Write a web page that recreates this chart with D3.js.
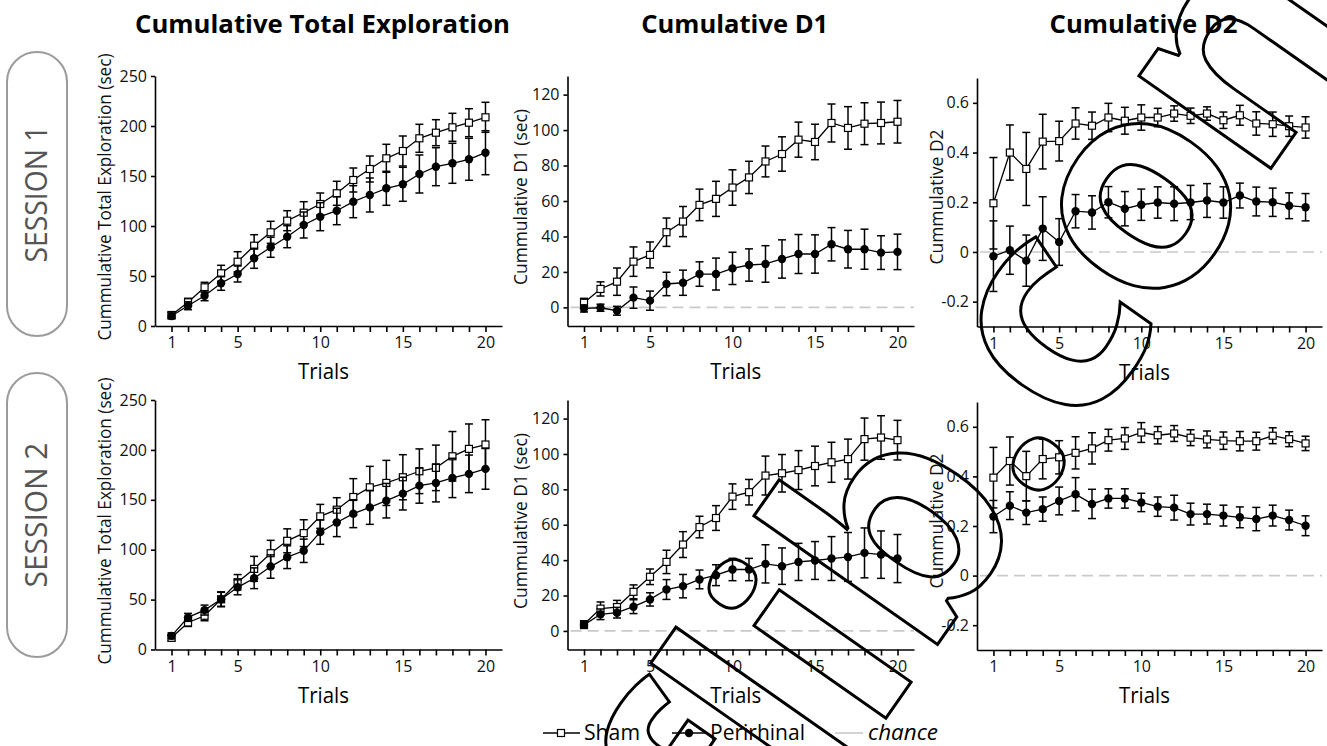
<!DOCTYPE html>
<meta charset="utf-8">
<head>
    <style>
        body {
            margin: 0;
            background: #fff;
        }

        svg {
            font-family: 'Open Sans', sans-serif;
        }

        .axis path,
        .axis line {
            fill: none;
            stroke: #000;
            stroke-width: 1.6;
        }

        .axis text {
            font-family: 'Open Sans', sans-serif;
            font-size: 16px;
            fill: #111;
        }
    </style>
</head>

<body>
    <svg id="chart" width="1327" height="746"></svg>

    <!-- load the d3.js library -->
    <script src="https://cdnjs.cloudflare.com/ajax/libs/d3/7.8.5/d3.min.js"></script>
    <script>

        // ---- data ----
        var trials = [1, 2, 3, 4, 5, 6, 7, 8, 9, 10, 11, 12, 13, 14, 15, 16, 17, 18, 19, 20];
        var xTickLabels = [1, 5, 10, 15, 20];
        var totalTicks = [0, 50, 100, 150, 200, 250];
        var d1Ticks = [0, 20, 40, 60, 80, 100, 120];
        var d2Ticks = [-0.2, 0, 0.2, 0.4, 0.6];

        var titles = ["Cumulative Total Exploration", "Cumulative D1", "Cumulative D2"];
        var yLabels = ["Cummulative Total Exploration (sec)", "Cummulative D1 (sec)", "Cummulative D2"];
        var sessions = ["SESSION 1", "SESSION 2"];
        var legendNames = ["Sham", "Perirhinal", "chance"];
        var watermarkParts = ["flib.", "con"];

        // session 1
        var s1TotalSham = [11, 23.7, 38.7, 52.7, 64.3, 80.3, 93.7, 105.3, 113.3, 122, 132.7, 146, 157, 167.7, 175, 187.7, 193.3, 198.7, 203.3, 208.7];
        var s1TotalShamErr = [3, 4, 5, 8, 10, 11, 11, 10, 11, 11, 12, 12, 13, 14, 15, 14, 13, 14, 14, 15];
        var s1TotalPeri = [10, 20.3, 30.3, 42.7, 52, 67.7, 78.7, 89.3, 101, 109.3, 115.3, 124.3, 131, 137.7, 141.7, 152, 159.3, 162.7, 166.7, 173.3];
        var s1TotalPeriErr = [3, 4, 5, 7, 8, 10, 10, 11, 13, 14, 14, 16, 17, 17, 17, 19, 19, 20, 21, 22];

        var s1D1Sham = [2.6, 10.4, 14.5, 25.8, 29.6, 42.4, 48.4, 57.8, 61.2, 67.6, 73.3, 82.3, 86.5, 94.6, 93.3, 104, 101.2, 103.6, 104, 104.7];
        var s1D1ShamErr = [2.5, 4, 7.7, 8.3, 7.3, 8, 8.5, 8.9, 9.9, 10, 9.1, 8.7, 9.7, 9.9, 10, 10.7, 12, 11.8, 11.8, 12];
        var s1D1Peri = [-0.6, -0.2, -1.9, 5.5, 3.8, 13.2, 13.9, 18.8, 18.8, 22, 23.9, 24.5, 27.3, 30.1, 30.1, 35.6, 32.8, 32.8, 30.9, 31.3];
        var s1D1PeriErr = [2, 2, 2.5, 6, 5.4, 6.6, 7.1, 6.9, 9, 9.1, 9.1, 10.3, 10.8, 11, 10.8, 9.4, 10.6, 11.3, 9.5, 10];

        var s1D2Sham = [0.196, 0.40, 0.334, 0.444, 0.446, 0.517, 0.508, 0.541, 0.528, 0.541, 0.541, 0.557, 0.548, 0.557, 0.530, 0.550, 0.517, 0.514, 0.506, 0.501];
        var s1D2ShamErr = [0.184, 0.111, 0.147, 0.110, 0.080, 0.063, 0.055, 0.057, 0.054, 0.051, 0.037, 0.031, 0.031, 0.027, 0.033, 0.040, 0.047, 0.049, 0.041, 0.043];
        var s1D2Peri = [-0.017, 0.007, -0.035, 0.094, 0.040, 0.164, 0.159, 0.200, 0.174, 0.190, 0.199, 0.194, 0.199, 0.207, 0.199, 0.227, 0.203, 0.200, 0.186, 0.180];
        var s1D2PeriErr = [0.142, 0.097, 0.103, 0.128, 0.094, 0.067, 0.067, 0.063, 0.069, 0.063, 0.063, 0.068, 0.069, 0.068, 0.063, 0.050, 0.058, 0.057, 0.052, 0.055];

        // session 2
        var s2TotalSham = [11.7, 27.1, 33.8, 50.3, 67.4, 80.8, 96.5, 108.9, 116.6, 133.4, 140.1, 152.8, 162.5, 166.9, 172.6, 178.6, 182, 193.6, 201, 205.4];
        var s2TotalShamErr = [3, 4, 5, 7, 7.7, 12.5, 12.9, 12, 13.4, 12, 12, 18.4, 21, 22.6, 22.6, 22.4, 22.8, 24.8, 25, 24.8];
        var s2TotalPeri = [13.7, 32.2, 39.5, 50.3, 62.3, 71.4, 83.1, 92.5, 98.9, 117.6, 127.3, 136.1, 142.4, 149.1, 156.2, 164.2, 166.9, 171.9, 176, 181];
        var s2TotalPeriErr = [3, 4, 5, 7.5, 7.5, 10.4, 11.7, 11.4, 11.7, 12.2, 14.2, 14, 17, 17.3, 16.4, 17.6, 19, 19.7, 18.8, 20.4];

        var s2D1Sham = [3.75, 12.6, 13.5, 22.1, 30.6, 39, 48.8, 58.7, 63.8, 75.9, 78.4, 87.8, 89.1, 90.9, 93.2, 95.3, 97.1, 108.4, 109.3, 107.8];
        var s2D1ShamErr = [2, 3.75, 3.75, 3.9, 4.4, 6.6, 7.3, 6.1, 7, 7.2, 7.2, 11, 10.6, 11, 11.2, 11.3, 11.3, 11.9, 12.3, 11.2];
        var s2D1Peri = [3.4, 9.4, 10.3, 13.7, 17.8, 23.4, 25.3, 29.1, 31.5, 34.7, 34.7, 37.9, 36.6, 39, 39.8, 40.9, 41.8, 44.1, 43.1, 40.9];
        var s2D1PeriErr = [2, 3, 3, 3.9, 3.75, 5.6, 6.6, 5.3, 5.9, 6.3, 6.3, 10.8, 10.3, 10.5, 10.7, 12.4, 13.8, 14.1, 13.4, 13.6];

        var s2D2Sham = [0.395, 0.462, 0.401, 0.470, 0.477, 0.495, 0.513, 0.546, 0.553, 0.577, 0.566, 0.573, 0.556, 0.549, 0.544, 0.542, 0.542, 0.564, 0.550, 0.533];
        var s2D2ShamErr = [0.122, 0.097, 0.10, 0.080, 0.067, 0.065, 0.063, 0.044, 0.044, 0.040, 0.035, 0.032, 0.032, 0.034, 0.035, 0.039, 0.036, 0.032, 0.030, 0.029];
        var s2D2Peri = [0.238, 0.282, 0.254, 0.268, 0.301, 0.328, 0.289, 0.311, 0.311, 0.295, 0.278, 0.274, 0.248, 0.248, 0.242, 0.235, 0.228, 0.242, 0.224, 0.201];
        var s2D2PeriErr = [0.065, 0.056, 0.048, 0.049, 0.056, 0.067, 0.059, 0.039, 0.039, 0.037, 0.039, 0.050, 0.044, 0.040, 0.042, 0.042, 0.047, 0.042, 0.040, 0.040];

        // ---- layout ----
        var svg = d3.select("#chart");

        var signedFmt = function (d) {
            if (d == 0) return "0";
            return (d < 0 ? "-" : "") + Math.abs(d).toFixed(1);
        };

        var cols = [
            { x0: 155, x1: 502, domain: [0, 250], ticks: totalTicks, fmt: d3.format("d"), dTop: 0, dBot: 0, labelOff: 44, labelLen: 287, titleLen: 375, chance: false },
            { x0: 567.5, x1: 914, domain: [-10.5, 130.5], ticks: d1Ticks, fmt: d3.format("d"), dTop: 0, dBot: 0, labelOff: 40.5, labelLen: 176, titleLen: 187, chance: true },
            { x0: 977, x1: 1322, domain: [-0.3, 0.7], ticks: d2Ticks, fmt: signedFmt, dTop: 2, dBot: 0.5, labelOff: 34.3, labelLen: 135, titleLen: 188, chance: true }
        ];
        var rows = [
            { top: 76, bottom: 326, pillY: 52, textLen: 137 },
            { top: 400, bottom: 649.5, pillY: 373, textLen: 145 }
        ];

        var series = [
            [[s1TotalSham, s1TotalShamErr, s1TotalPeri, s1TotalPeriErr],
             [s1D1Sham, s1D1ShamErr, s1D1Peri, s1D1PeriErr],
             [s1D2Sham, s1D2ShamErr, s1D2Peri, s1D2PeriErr]],
            [[s2TotalSham, s2TotalShamErr, s2TotalPeri, s2TotalPeriErr],
             [s2D1Sham, s2D1ShamErr, s2D1Peri, s2D1PeriErr],
             [s2D2Sham, s2D2ShamErr, s2D2Peri, s2D2PeriErr]]
        ];

        // column titles
        cols.forEach(function (c, i) {
            svg.append("text")
                .attr("x", (c.x0 + c.x1) / 2 - 6)
                .attr("y", 32.5)
                .attr("text-anchor", "middle")
                .attr("font-size", 25)
                .attr("font-weight", 700)
                .attr("textLength", c.titleLen)
                .attr("lengthAdjust", "spacingAndGlyphs")
                .text(titles[i]);
        });

        // session pills
        rows.forEach(function (r, i) {
            svg.append("rect")
                .attr("x", 7).attr("y", r.pillY)
                .attr("width", 60).attr("height", 284)
                .attr("rx", 30).attr("ry", 30)
                .attr("fill", "none")
                .attr("stroke", "#9b9b9b")
                .attr("stroke-width", 2);
            svg.append("text")
                .attr("transform", "translate(47," + (r.pillY + 142) + ")rotate(-90)")
                .attr("text-anchor", "middle")
                .attr("font-size", 31)
                .attr("fill", "#555")
                .attr("textLength", r.textLen)
                .attr("lengthAdjust", "spacingAndGlyphs")
                .text(sessions[i]);
        });

        function drawPanel(c, r, data, ci) {
            var g = svg.append("g");

            var x = d3.scaleLinear().domain([0, 21]).range([c.x0, c.x1]);
            var y = d3.scaleLinear().domain(c.domain).range([r.bottom + c.dBot, r.top + c.dTop]);
            var base = r.bottom + c.dBot;

            // chance line
            if (c.chance) {
                g.append("line")
                    .attr("x1", c.x0 + 3).attr("x2", c.x1)
                    .attr("y1", y(0)).attr("y2", y(0))
                    .attr("stroke", "#c9c9c9")
                    .attr("stroke-width", 1.6)
                    .attr("stroke-dasharray", "11,6");
            }

            // Y axis
            g.append("g")
                .attr("class", "axis")
                .attr("transform", "translate(" + c.x0 + ",0)")
                .call(d3.axisLeft(y).tickValues(c.ticks).tickFormat(c.fmt).tickSize(4).tickSizeOuter(0).tickPadding(4));

            // X axis
            g.append("g")
                .attr("class", "axis")
                .attr("transform", "translate(0," + base + ")")
                .call(d3.axisBottom(x).tickValues(trials)
                    .tickFormat(function (d) { return xTickLabels.indexOf(d) >= 0 ? d : ""; })
                    .tickSize(6).tickSizeOuter(0).tickPadding(5));

            g.selectAll(".axis text").attr("font-size", 16).attr("font-family", "'Open Sans', sans-serif");

            // axis titles
            g.append("text")
                .attr("x", (c.x0 + c.x1) / 2 - 5)
                .attr("y", base + 53)
                .attr("text-anchor", "middle")
                .attr("font-size", 22)
                .attr("textLength", 51)
                .attr("lengthAdjust", "spacingAndGlyphs")
                .text("Trials");

            g.append("text")
                .attr("transform", "translate(" + (c.x0 - c.labelOff) + "," + (r.top + 121) + ")rotate(-90)")
                .attr("text-anchor", "middle")
                .attr("font-size", 19)
                .attr("fill", "#111")
                .attr("textLength", c.labelLen)
                .attr("lengthAdjust", "spacingAndGlyphs")
                .text(yLabels[ci]);

            // Bars, lines, markers for each group
            [[data[0], data[1], "sham"], [data[2], data[3], "peri"]].forEach(function (s) {
                var pts = trials.map(function (t, i) { return { t: t, v: s[0][i], e: s[1][i] }; });

                var eb = g.append("g")
                    .attr("stroke", "#000")
                    .attr("stroke-width", 1.5);
                pts.forEach(function (d) {
                    var px = x(d.t), hi = y(d.v + d.e), lo = y(d.v - d.e);
                    eb.append("line").attr("x1", px).attr("x2", px).attr("y1", hi).attr("y2", lo);
                    eb.append("line").attr("x1", px - 4).attr("x2", px + 4).attr("y1", hi).attr("y2", hi);
                    eb.append("line").attr("x1", px - 4).attr("x2", px + 4).attr("y1", lo).attr("y2", lo);
                });

                g.append("path")
                    .datum(pts)
                    .attr("fill", "none")
                    .attr("stroke", "#000")
                    .attr("stroke-width", 1.3)
                    .attr("d", d3.line()
                        .x(function (d) { return x(d.t); })
                        .y(function (d) { return y(d.v); }));

                if (s[2] == "sham") {
                    g.selectAll("sq")
                        .data(pts)
                        .enter()
                        .append("rect")
                        .attr("x", function (d) { return x(d.t) - 3.5; })
                        .attr("y", function (d) { return y(d.v) - 3.5; })
                        .attr("width", 7).attr("height", 7)
                        .attr("fill", "#fff")
                        .attr("stroke", "#000")
                        .attr("stroke-width", 1.2);
                } else {
                    g.selectAll("dot")
                        .data(pts)
                        .enter()
                        .append("circle")
                        .attr("cx", function (d) { return x(d.t); })
                        .attr("cy", function (d) { return y(d.v); })
                        .attr("r", 4.2)
                        .attr("fill", "#000");
                }
            });
        }

        rows.forEach(function (r, ri) {
            cols.forEach(function (c, ci) {
                drawPanel(c, r, series[ri][ci], ci);
            });
        });

        // legend
        var lg = svg.append("g").attr("font-size", 22);
        lg.append("line").attr("x1", 543).attr("x2", 580).attr("y1", 733).attr("y2", 733).attr("stroke", "#000").attr("stroke-width", 1.3);
        lg.append("rect").attr("x", 557.5).attr("y", 729.5).attr("width", 7).attr("height", 7).attr("fill", "#fff").attr("stroke", "#000").attr("stroke-width", 1.2);
        lg.append("text").attr("x", 584).attr("y", 740).attr("textLength", 56).attr("lengthAdjust", "spacingAndGlyphs").text(legendNames[0]);
        lg.append("line").attr("x1", 672).attr("x2", 707).attr("y1", 733).attr("y2", 733).attr("stroke", "#000").attr("stroke-width", 1.3);
        lg.append("circle").attr("cx", 689).attr("cy", 733).attr("r", 4.2).attr("fill", "#000");
        lg.append("text").attr("x", 710).attr("y", 740).attr("textLength", 95).attr("lengthAdjust", "spacingAndGlyphs").text(legendNames[1]);
        lg.append("line").attr("x1", 835).attr("x2", 863).attr("y1", 733).attr("y2", 733).attr("stroke", "#c9c9c9").attr("stroke-width", 1.6);
        lg.append("text").attr("x", 868).attr("y", 740).attr("font-style", "italic").attr("textLength", 70).attr("lengthAdjust", "spacingAndGlyphs").text(legendNames[2]);

        // outlined watermark text laid across the right side
        var wm = svg.append("g").attr("transform", "translate(1060,330)rotate(-55)");
        var wmText = wm.append("text")
            .attr("y", 80)
            .attr("font-size", 295)
            .attr("font-weight", 700)
            .attr("fill", "none")
            .attr("stroke", "#000")
            .attr("stroke-width", 3);
        wmText.append("tspan").text(watermarkParts[0]);
        wmText.append("tspan").attr("letter-spacing", -12).text(watermarkParts[1]);
        var lead = wmText.node().getSubStringLength(0, watermarkParts[0].length);
        wmText.attr("x", -92 - lead + 12);

    </script>
</body>
